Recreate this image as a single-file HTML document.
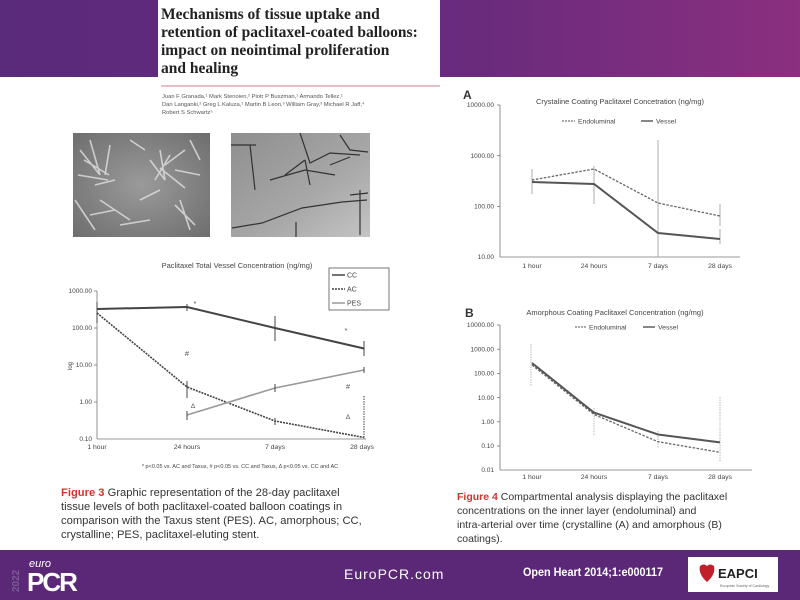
<!DOCTYPE html>
<html><head><meta charset="utf-8"><style>
html,body{margin:0;padding:0;background:#fff;}
svg{display:block;font-family:"Liberation Sans",sans-serif;}
</style></head><body>
<svg width="800" height="600" viewBox="0 0 800 600" xmlns="http://www.w3.org/2000/svg">
<defs>
<linearGradient id="tg" x1="0" x2="1" y1="0" y2="0">
<stop offset="0" stop-color="#5a2a7b"/><stop offset="0.6" stop-color="#6a2b7d"/><stop offset="1" stop-color="#8b2f7f"/>
</linearGradient>
<radialGradient id="p1" cx="0.5" cy="0.5" r="0.7">
<stop offset="0" stop-color="#9a9a9a"/><stop offset="1" stop-color="#6e6e6e"/>
</radialGradient>
<linearGradient id="p2" x1="0" x2="1" y1="0" y2="1">
<stop offset="0" stop-color="#8e8e8e"/><stop offset="0.6" stop-color="#a8a8a8"/><stop offset="1" stop-color="#c4c4c4"/>
</linearGradient>
</defs>
<rect x="0" y="0" width="800" height="77" fill="url(#tg)"/>
<rect x="158" y="0" width="282" height="86" fill="#fff"/>
<line x1="161" y1="86" x2="440" y2="86" stroke="#e0a8b0" stroke-width="1.5"/>
<g font-family="Liberation Serif,serif" font-weight="bold" font-size="15.5" fill="#222">
<text x="161" y="19">Mechanisms of tissue uptake and</text>
<text x="161" y="37">retention of paclitaxel-coated balloons:</text>
<text x="161" y="55">impact on neointimal proliferation</text>
<text x="161" y="73">and healing</text>
</g>
<g font-size="5.8" fill="#555">
<text x="162" y="98">Juan F Granada,¹ Mark Stenoien,² Piotr P Buszman,¹ Armando Tellez,¹</text>
<text x="162" y="106">Dan Langanki,² Greg L Kaluza,¹ Martin B Leon,³ William Gray,³ Michael R Jaff,⁴</text>
<text x="162" y="114">Robert S Schwartz⁵</text>
</g>
<!-- photos -->
<rect x="73" y="133" width="137" height="104" fill="url(#p1)"/>
<g stroke="#dcdcdc" stroke-width="1.6" opacity="0.85" fill="none">
<path d="M80 150 l20 25 M90 140 l10 35 M110 145 l-5 30 M84 160 l25 15 M78 175 l30 5 M95 185 l20 -5 M150 160 l15 20 M160 150 l5 30 M170 155 l-15 25 M175 170 l25 5 M165 165 l20 -15 M160 168 l25 20 M140 200 l20 -10 M180 200 l10 30 M175 205 l20 20 M100 200 l30 20 M90 215 l25 -5 M120 225 l30 -5 M130 140 l15 10 M190 140 l10 20 M75 200 l20 30"/>
</g>
<rect x="231" y="133" width="139" height="104" fill="url(#p2)"/>
<g stroke="#333" stroke-width="1.2" fill="none">
<path d="M231 145 l25 0 M300 133 l10 30 l20 -10 l30 2 M270 180 l35 -10 l30 5 M305 160 l5 25 M232 228 l30 -5 l40 -15 l40 -6 l25 -2 M350 195 l18 -2 M250 145 l5 45 M360 190 l0 45 M340 135 l10 15 l18 2 M285 175 l20 -15 M330 165 l20 -8 M296 237 l0 -15"/>
</g>

<!-- Left chart -->
<text x="237" y="268" font-size="7.5" text-anchor="middle" fill="#444">Paclitaxel Total Vessel Concentration (ng/mg)</text>
<rect x="329" y="268" width="60" height="42" fill="#fff" stroke="#555" stroke-width="0.8"/>
<g font-size="7" fill="#444">
<line x1="332" y1="275" x2="345" y2="275" stroke="#444" stroke-width="1.5"/><text x="347" y="277.5">CC</text>
<line x1="332" y1="289" x2="345" y2="289" stroke="#444" stroke-width="1.5" stroke-dasharray="2,1"/><text x="347" y="291.5">AC</text>
<line x1="332" y1="303" x2="345" y2="303" stroke="#999" stroke-width="1.5"/><text x="347" y="305.5">PES</text>
</g>
<g stroke="#777" stroke-width="0.8">
<line x1="97" y1="291" x2="97" y2="439"/><line x1="97" y1="439" x2="366" y2="439"/>
<line x1="94" y1="291" x2="97" y2="291"/><line x1="94" y1="328" x2="97" y2="328"/><line x1="94" y1="365" x2="97" y2="365"/><line x1="94" y1="402" x2="97" y2="402"/>
</g>
<g font-size="6.5" fill="#444" text-anchor="end">
<text x="92" y="293">1000.00</text><text x="92" y="330">100.00</text><text x="92" y="367">10.00</text><text x="92" y="404">1.00</text><text x="92" y="441">0.10</text>
</g>
<text x="72" y="366" font-size="6" fill="#444" transform="rotate(-90 72 366)" text-anchor="middle">log</text>
<g font-size="6.8" fill="#444" text-anchor="middle">
<text x="97" y="449">1 hour</text><text x="187" y="449">24 hours</text><text x="275" y="449">7 days</text><text x="362" y="449">28 days</text>
</g>
<polyline points="97,309 187,307 275,328 364,348.5" fill="none" stroke="#444" stroke-width="2"/>
<polyline points="97,313 187,387 275,421 364,437.5" fill="none" stroke="#444" stroke-width="1.6" stroke-dasharray="2,1"/>
<polyline points="187,415 275,388 364,370" fill="none" stroke="#999" stroke-width="1.6"/>
<g stroke="#444" stroke-width="1">
<line x1="97" y1="302" x2="97" y2="318"/><line x1="187" y1="304" x2="187" y2="311"/><line x1="275" y1="316" x2="275" y2="341"/><line x1="364" y1="341" x2="364" y2="356"/>
<line x1="97" y1="305" x2="97" y2="323"/><line x1="187" y1="381" x2="187" y2="398"/><line x1="275" y1="418" x2="275" y2="425"/><line x1="364" y1="396" x2="364" y2="439" stroke-dasharray="1.5,1"/>
<line x1="187" y1="411" x2="187" y2="420"/><line x1="275" y1="384" x2="275" y2="392"/><line x1="364" y1="367" x2="364" y2="373"/>
</g>
<g font-size="7.5" fill="#555" text-anchor="middle">
<text x="195" y="306">*</text><text x="346" y="333">*</text><text x="187" y="356">#</text><text x="348" y="389">#</text><text x="193" y="408" font-size="6.5">Δ</text><text x="348" y="419" font-size="6.5">Δ</text>
</g>
<text x="240" y="468" font-size="5.5" fill="#444" text-anchor="middle">* p&lt;0.05 vs. AC and Taxus, # p&lt;0.05 vs. CC and Taxus, Δ p&lt;0.05 vs. CC and AC</text>
<g font-size="11.2" fill="#333">
<text x="61" y="496"><tspan fill="#d0342c" font-weight="bold">Figure 3</tspan>   Graphic representation of the 28-day paclitaxel</text>
<text x="61" y="510">tissue levels of both paclitaxel-coated balloon coatings in</text>
<text x="61" y="524">comparison with the Taxus stent (PES). AC, amorphous; CC,</text>
<text x="61" y="538">crystalline; PES, paclitaxel-eluting stent.</text>
</g>

<!-- Chart A -->
<text x="463" y="99" font-size="12" font-weight="bold" fill="#333">A</text>
<text x="620" y="104" font-size="7.5" text-anchor="middle" fill="#444">Crystaline Coating Paclitaxel Concetration (ng/mg)</text>
<g font-size="6.8" fill="#444">
<line x1="562" y1="121" x2="575" y2="121" stroke="#555" stroke-dasharray="2,1"/><text x="578" y="123.5">Endoluminal</text>
<line x1="641" y1="121" x2="653" y2="121" stroke="#444" stroke-width="1.3"/><text x="656" y="123.5">Vessel</text>
</g>
<g stroke="#777" stroke-width="0.8">
<line x1="500" y1="105" x2="500" y2="257"/><line x1="500" y1="257" x2="740" y2="257"/>
<line x1="497" y1="105" x2="500" y2="105"/><line x1="497" y1="155.7" x2="500" y2="155.7"/><line x1="497" y1="206.4" x2="500" y2="206.4"/>
</g>
<g font-size="6.5" fill="#444" text-anchor="end">
<text x="494" y="107">10000.00</text><text x="494" y="158">1000.00</text><text x="494" y="208.5">100.00</text><text x="494" y="259">10.00</text>
</g>
<g font-size="6.8" fill="#444" text-anchor="middle">
<text x="532" y="268">1 hour</text><text x="594" y="268">24 hours</text><text x="658" y="268">7 days</text><text x="720" y="268">28 days</text>
</g>
<g stroke="#999" stroke-width="0.8">
<line x1="532" y1="169" x2="532" y2="194"/><line x1="594" y1="166" x2="594" y2="204"/><line x1="658" y1="140" x2="658" y2="257"/><line x1="720" y1="204" x2="720" y2="226"/><line x1="720" y1="229" x2="720" y2="244"/>
</g>
<polyline points="532,180 594,169 658,203 720,216" fill="none" stroke="#666" stroke-width="1.3" stroke-dasharray="2.5,1.5"/>
<polyline points="532,182 594,184 658,233 720,239" fill="none" stroke="#555" stroke-width="2"/>

<!-- Chart B -->
<text x="465" y="317" font-size="12" font-weight="bold" fill="#333">B</text>
<text x="615" y="315" font-size="7.5" text-anchor="middle" fill="#444">Amorphous Coating Paclitaxel Concentration (ng/mg)</text>
<g font-size="6.8" fill="#444">
<line x1="575" y1="327" x2="587" y2="327" stroke="#555" stroke-dasharray="2,1"/><text x="589" y="329.5">Endoluminal</text>
<line x1="643" y1="327" x2="655" y2="327" stroke="#444" stroke-width="1.3"/><text x="658" y="329.5">Vessel</text>
</g>
<g stroke="#777" stroke-width="0.8">
<line x1="500" y1="325" x2="500" y2="470"/><line x1="500" y1="470" x2="752" y2="470"/>
<line x1="497" y1="325" x2="500" y2="325"/><line x1="497" y1="349.2" x2="500" y2="349.2"/><line x1="497" y1="373.4" x2="500" y2="373.4"/><line x1="497" y1="397.6" x2="500" y2="397.6"/><line x1="497" y1="421.8" x2="500" y2="421.8"/><line x1="497" y1="446" x2="500" y2="446"/>
</g>
<g font-size="6.5" fill="#444" text-anchor="end">
<text x="494" y="327">10000.00</text><text x="494" y="351.5">1000.00</text><text x="494" y="375.5">100.00</text><text x="494" y="400">10.00</text><text x="494" y="424">1.00</text><text x="494" y="448">0.10</text><text x="494" y="472">0.01</text>
</g>
<g font-size="6.8" fill="#444" text-anchor="middle">
<text x="532" y="479">1 hour</text><text x="594" y="479">24 hours</text><text x="658" y="479">7 days</text><text x="720" y="479">28 days</text>
</g>
<g stroke="#aaa" stroke-width="0.8" stroke-dasharray="1.5,1">
<line x1="531" y1="344" x2="531" y2="386"/><line x1="594" y1="408" x2="594" y2="436"/><line x1="658" y1="431" x2="658" y2="448"/><line x1="720" y1="397" x2="720" y2="461"/>
</g>
<polyline points="532,365 594,414.5 658,441.7 720,452.3" fill="none" stroke="#666" stroke-width="1.3" stroke-dasharray="2.5,1.5"/>
<polyline points="532,363 594,412.6 658,434.5 720,442.4" fill="none" stroke="#555" stroke-width="2"/>
<g font-size="10.5" fill="#333">
<text x="457" y="500"><tspan fill="#d0342c" font-weight="bold">Figure 4</tspan>   Compartmental analysis displaying the paclitaxel</text>
<text x="457" y="514">concentrations on the inner layer (endoluminal) and</text>
<text x="457" y="528">intra-arterial over time (crystalline (A) and amorphous (B)</text>
<text x="457" y="542">coatings).</text>
</g>

<!-- Bottom band -->
<rect x="0" y="550" width="800" height="50" fill="#5b2878"/>
<g fill="#7d5a96" font-size="10" font-weight="bold">
<text transform="translate(19 592) rotate(-90)">2022</text>
</g>
<text x="29" y="567" font-size="11" font-style="italic" fill="#fff">euro</text>
<text x="27" y="591" font-size="26" font-weight="bold" fill="#fff" letter-spacing="-2">PCR</text>
<text x="344" y="579" font-size="14" fill="#fff" letter-spacing="1">EuroPCR.com</text>
<text x="523" y="576" font-size="12" font-weight="bold" fill="#fff" textLength="140" lengthAdjust="spacingAndGlyphs">Open Heart 2014;1:e000117</text>
<rect x="688" y="557" width="90" height="35" fill="#fff"/>
<path d="M700 566 q4 -3 7 0 q3 -3 7 0 q2 8 -7 16 q-9 -8 -7 -16z" fill="#c0202a"/>
<text x="718" y="578" font-size="13" font-weight="bold" fill="#222">EAPCI</text>
<text x="720" y="587" font-size="3.5" fill="#666">European Society of Cardiology</text>
</svg>
</body></html>
